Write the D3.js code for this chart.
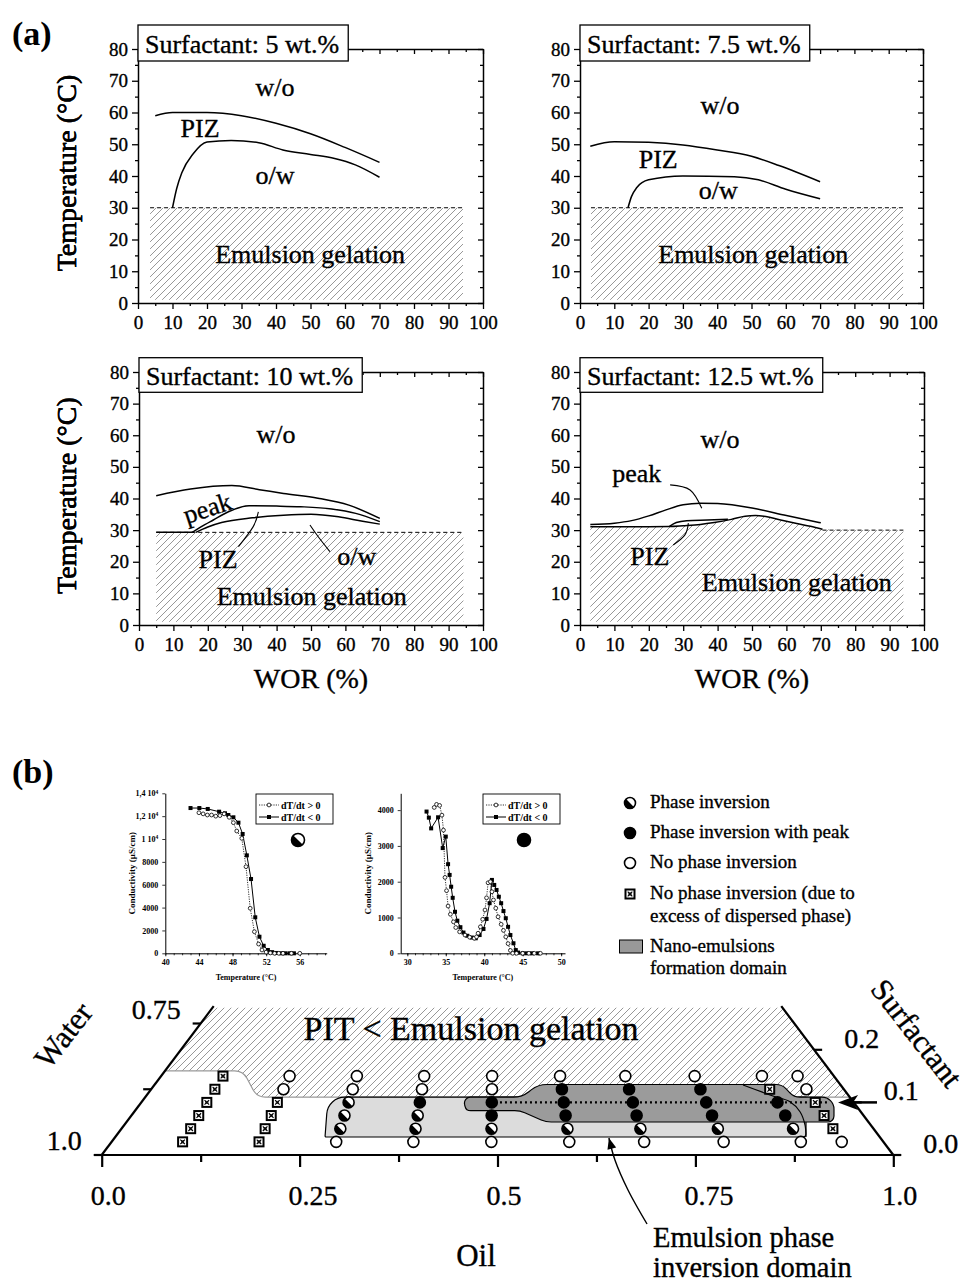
<!DOCTYPE html>
<html><head><meta charset="utf-8">
<script src="https://cdn.jsdelivr.net/npm/d3@7"></script>
<style>
body{margin:0;background:#fff;}
svg{display:block;}
.heavy{stroke:#000;stroke-width:0.35px;}
</style></head><body>
<svg id="c" width="971" height="1286"></svg>
<script>
// ================= DATA : panel (a) =================
const surfactantLabels = ["Surfactant: 5 wt.%","Surfactant: 7.5 wt.%","Surfactant: 10 wt.%","Surfactant: 12.5 wt.%"];
const tempTicks = [0,10,20,30,40,50,60,70,80];
const worTicks = [0,10,20,30,40,50,60,70,80,90,100];

// 5 wt.%
const wt5Upper = [[5,59],[10,60],[20,60],[30,59],[40,56.6],[50,53.3],[60,49],[70,44.3]];
const wt5Lower = [[10,30],[11.2,36],[12.7,41],[16,47],[20,50.7],[27,51.2],[35,50.5],[42,48.2],[50,46.8],[57,45.5],[63,43.5],[70,39.6]];
// 7.5 wt.%
const wt75Upper = [[3,49.4],[10,50.8],[20,50.6],[30,49.8],[40,48.2],[50,46.2],[58,43.3],[70,38.2]];
const wt75Lower = [[14,30],[15,33.5],[16.5,36.3],[20,38.8],[30,40],[45,39.8],[52,38.8],[60,35.8],[70,32.8]];
// 10 wt.%
const wt10Upper = [[5,40.9],[15,43],[27,44.1],[35,42.8],[42,41.6],[52,40.1],[61,37.9],[70,33.7]];
const wt10Base = [[5,29.3],[16,29.3]];
const wt10Middle = [[15.5,29.3],[18,31],[21.6,33.2],[26,35.8],[32,37.7],[40,37.6],[47,37.4],[56,36.7],[63,35.3],[70,32.7]];
const wt10Lower = [[16.5,29.3],[20,31],[24,32.4],[33,33.9],[42,34.7],[50,35],[58,34.2],[65,32.8],[70,31.9]];
// 12.5 wt.%
const wt125Upper = [[3,31.8],[10,32.2],[15,33],[20,34.5],[25,36.4],[30,38],[35,38.5],[40,38.4],[50,37],[60,34.6],[70,32.3]];
const wt125Lower = [[3,31.1],[20,31.1],[26,31.15],[30,31.4],[35,31.8],[39,32.4],[44,33.4],[48,34.4],[51,34.6],[54,34.3],[58,33.3],[63,32.1],[67,31.2],[70.5,30.3]];
const wt125Piz = [[26,31.2],[28,32.4],[31,33],[37,33.2],[43,33.4]];
const wt125GelEnd = [[94,30]];

// gelation limits (°C) and hatch extents (WOR %)
const gelTemp = [30, 30, 29.3, 30];
const hatchRange = [[3.5,94.2],[3.2,94.2],[5,94.3],[3,94]];
const dashRange = [[3.5,94.2],[3.2,94.2],[5,94.3],[70.5,94]];

// region labels [text, WOR, T, rotation]
const labels5 = [["w/o",39.7,65.2,0],["PIZ",18,52.4,0],["o/w",39.7,37.5,0],["Emulsion gelation",49.9,12.6,0]];
const labels75 = [["w/o",40.8,59.5,0],["PIZ",22.8,42.5,0],["o/w",40.3,32.8,0],["Emulsion gelation",50.5,12.6,0]];
const labels10 = [["w/o",39.8,57.5,0],["peak",20.1,36.3,-18],["PIZ",23,18,0],["o/w",63.3,19,0],["Emulsion gelation",50.2,6.3,0]];
const labels125 = [["w/o",40.7,56,0],["peak",16.5,45.2,0],["PIZ",20.3,19,0],["Emulsion gelation",63,10.8,0]];
// leader lines
const leaders10 = [[[28.9,24.8],[33.2,31.1],[34.7,35.8]],[[55.5,23.2],[52.1,27.9],[49.7,31.6]]];
const leaders125 = [[[26.2,44.3],[32,42.7],[35.4,36.9]],[[27.1,25.3],[30.5,28.5],[31.5,32.2]]];

// ================= DATA : conductivity insets =================
const c1Heating = [[44,12300],[44.5,12200],[45,12100],[45.5,12100],[46,12000],[46.5,12050],[47,12200],[47.6,11900],[48.1,11430],[48.5,10700],[49.1,10060],[49.6,7580],[50.1,3940],[50.6,1890],[51.1,810],[51.5,290],[52,100],[52.5,30],[53,0],[53.5,0],[54,0],[55,0],[56,0]];
const c1Cooling = [[43,12710],[44.05,12710],[45.05,12630],[46.4,12390],[47.1,12250],[47.5,12100],[48.1,11900],[48.7,11430],[49.2,10440],[49.7,8570],[50.2,6500],[50.7,3150],[51.2,1450],[51.7,660],[52.2,290],[52.7,100],[53.2,30],[53.8,0],[54.3,0],[54.8,0],[55.3,0]];
const c1YTicks = [0,2000,4000,6000,8000,10000,12000,14000];
const c1YLabels = ["0","2000","4000","6000","8000","1 10^4","1,2 10^4","1,4 10^4"];
const c1XTicks = [40,44,48,52,56];

const c2Heating = [[33.5,4075],[33.8,4160],[34.2,4130],[34.5,3860],[34.7,3440],[34.9,2120],[35.1,1750],[35.3,1320],[35.6,1090],[36,880],[36.3,720],[36.8,600],[37.5,510],[38.1,450],[38.7,420],[39,460],[39.2,560],[39.5,740],[39.8,950],[40.1,1210],[40.3,1550],[40.5,1970],[40.8,2000],[41,1720],[41.2,1490],[41.5,1260],[41.8,1020],[42.2,810],[42.5,640],[42.8,460],[43.1,270],[43.4,80],[43.7,0],[44.2,0],[45,0],[45.8,0],[46.5,0],[47.3,0]];
const c2Cooling = [[32.5,3960],[32.8,3790],[33.1,3490],[34,3800],[34.6,2940],[35,3260],[35.3,2490],[35.5,2190],[35.7,1860],[35.9,1550],[36.2,1160],[36.5,910],[36.9,730],[37.3,580],[37.8,490],[38.4,440],[38.9,420],[39.4,510],[39.9,680],[40.3,960],[40.7,1400],[41,2050],[41.3,1910],[41.6,1770],[41.9,1580],[42.2,1400],[42.5,1180],[42.8,980],[43.1,740],[43.4,510],[43.8,280],[44.1,90],[44.4,20],[45,0],[45.5,0],[46.2,0],[47,0]];
const c2YTicks = [0,1000,2000,3000,4000];
const c2XTicks = [30,35,40,45,50];
const insetLegend = ["dT/dt > 0","dT/dt < 0"];

// ================= DATA : ternary diagram =================
const oilRatio = [0.092,0.191,0.291,0.391,0.492,0.593,0.69,0.793,0.893,0.946]; // oil/(oil+water)
const surfLevels = [0.025,0.05,0.075,0.1,0.125,0.15];
// X: no inversion (excess dispersed), O: no inversion, H: phase inversion, F: inversion with peak
const pointTypes = ["XXXXXX","XXXXOO","OHHHOO","OHHFOO","OHFFOO","OHFFFO","OHFFFO","OHFFFO","OHFFXO","OXXXOO"];
// regions as [oil, surfactant]
const gelRegion = [[0,0.16],[0.0985,0.16],[0.1412,0.11],[0.89,0.11],[0.72,0.28],[0,0.28]];
const inversionRegion = [[0.265,0.0342],[0.2309,0.11],[0.8347,0.11],[0.8726,0.0342]];
const inversionRegionEnd = [[0.7436,0.1331],[0.7919,0.1122],[0.8188,0.1013],[0.841,0.0823],[0.86,0.057],[0.8726,0.0342]];
const nanoRegion = [[0.4014,0.11],[0.476,0.11],[0.4842,0.134],[0.7924,0.134],[0.8196,0.11],[0.8701,0.11],[0.8937,0.0627],[0.5299,0.0627],[0.4863,0.0842],[0.4181,0.0842]];
const dottedRow = [[0.4468,0.1],[0.8675,0.1]];
const arrowRow = [[0.9294,0.1],[0.8802,0.1]];
const inversionArrow = [[0.7545,-0.1312],[0.6981,-0.0665],[0.6531,-0.0095],[0.6246,0.0323]];
const oilTicks = [0,0.125,0.25,0.375,0.5,0.625,0.75,0.875,1];
const oilLabels = ["0.0","0.25","0.5","0.75","1.0"];
const oilLabelVals = [0,0.25,0.5,0.75,1];
const waterTicks = [0,0.125,0.25];
const waterLabels = [[0,"1.0"],[0.25,"0.75"]];
const surfTicks = [0,0.1,0.2];
const surfLabels = ["0.0","0.1","0.2"];

// ================= DRAWING =================
const FONT = "Liberation Serif, Times New Roman, serif";
const svg = d3.select('#c').attr('font-family', FONT);
svg.append('rect').attr('width',971).attr('height',1286).attr('fill','#fff');
const defs = svg.append('defs');
const pat = defs.append('pattern').attr('id','hatch').attr('patternUnits','userSpaceOnUse').attr('width',7).attr('height',7);
pat.append('path').attr('d','M-1,1 l2,-2 M0,7 l7,-7 M6,8 l2,-2').attr('stroke','#8c8c8c').attr('stroke-width',0.9);

svg.append('text').attr('x',12).attr('y',45).attr('font-size',34).attr('font-weight','bold').text('(a)');
svg.append('text').attr('x',12).attr('y',783).attr('font-size',34).attr('font-weight','bold').text('(b)');

const panelLayout = [
  {left:138,right:483,top:49,bottom:303,boxTop:25,boxH:36},
  {left:580,right:923,top:49,bottom:303,boxTop:25,boxH:36},
  {left:139,right:483,top:372,bottom:625,boxTop:357.7,boxH:34.6},
  {left:580,right:924,top:372,bottom:625,boxTop:357.7,boxH:34.6}
];
const panelData = [
  {curves:[wt5Upper,wt5Lower], labels:labels5, leaders:[], hatch:null},
  {curves:[wt75Upper,wt75Lower], labels:labels75, leaders:[], hatch:null},
  {curves:[wt10Upper,wt10Base,wt10Middle,wt10Lower], labels:labels10, leaders:leaders10, hatch:null},
  {curves:[wt125Upper,wt125Lower,wt125Piz], labels:labels125, leaders:leaders125, hatch:wt125Lower.concat(wt125GelEnd)}
];

function styleAxis(g, fs){
  g.attr('font-family',null).attr('font-size',null);
  g.select('.domain').attr('stroke','#000').attr('stroke-width',1.5);
  g.selectAll('.tick line').attr('stroke','#000').attr('stroke-width',1.3);
  g.selectAll('.tick text').attr('font-family',FONT).attr('font-size',fs).attr('fill','#000').attr('class','heavy');
}

panelLayout.forEach((lay,i)=>{
  const pd = panelData[i];
  const x = d3.scaleLinear().domain([0,100]).range([lay.left,lay.right]);
  const y = d3.scaleLinear().domain([0,80]).range([lay.bottom,lay.top]);
  const g = svg.append('g');
  const hr = hatchRange[i];
  if (pd.hatch){
    g.append('path').attr('d', d3.area().x(d=>x(d[0])).y0(y(1)).y1(d=>y(d[1])).curve(d3.curveMonotoneX)(pd.hatch)).attr('fill','url(#hatch)');
  } else {
    g.append('rect').attr('x',x(hr[0])).attr('width',x(hr[1])-x(hr[0])).attr('y',y(gelTemp[i])).attr('height',y(1)-y(gelTemp[i])).attr('fill','url(#hatch)');
  }
  const dr = dashRange[i];
  g.append('line').attr('x1',x(dr[0])).attr('x2',x(dr[1])).attr('y1',y(gelTemp[i])).attr('y2',y(gelTemp[i]))
    .attr('stroke','#000').attr('stroke-width',1).attr('stroke-dasharray','4,3');
  const line = d3.line().x(d=>x(d[0])).y(d=>y(d[1])).curve(d3.curveMonotoneX);
  pd.curves.forEach(c=>g.append('path').attr('d',line(c)).attr('fill','none').attr('stroke','#000').attr('stroke-width',1.5));
  const lead = d3.line().x(d=>x(d[0])).y(d=>y(d[1])).curve(d3.curveNatural);
  pd.leaders.forEach(c=>g.append('path').attr('d',lead(c)).attr('fill','none').attr('stroke','#000').attr('stroke-width',1.1));
  pd.labels.forEach(l=>{
    const t = g.append('text').attr('class','heavy').attr('x',x(l[1])).attr('y',y(l[2])).attr('text-anchor','middle').attr('font-size',26).text(l[0]);
    if (l[3]) t.attr('transform',`rotate(${l[3]},${x(l[1])},${y(l[2])})`).attr('dy','0.25em');
  });
  const ax = g.append('g').attr('transform',`translate(0,${lay.bottom})`).call(d3.axisBottom(x).tickValues(worTicks).tickSize(6).tickSizeOuter(0).tickPadding(7));
  styleAxis(ax,19);
  const axm = g.append('g').attr('transform',`translate(0,${lay.bottom})`).call(d3.axisBottom(x).tickValues(d3.range(5,100,10)).tickSize(3).tickFormat(''));
  styleAxis(axm,19); axm.select('.domain').remove();
  const ay = g.append('g').attr('transform',`translate(${lay.left},0)`).call(d3.axisLeft(y).tickValues(tempTicks).tickSize(6).tickSizeOuter(0).tickPadding(4));
  styleAxis(ay,19);
  const aym = g.append('g').attr('transform',`translate(${lay.left},0)`).call(d3.axisLeft(y).tickValues(d3.range(5,80,10)).tickSize(3).tickFormat(''));
  styleAxis(aym,19); aym.select('.domain').remove();
  const at = g.append('g').attr('transform',`translate(0,${lay.top})`).call(d3.axisTop(x).tickValues(worTicks).tickSize(-5).tickSizeOuter(0).tickFormat(''));
  styleAxis(at,19);
  const atm = g.append('g').attr('transform',`translate(0,${lay.top})`).call(d3.axisTop(x).tickValues(d3.range(5,100,10)).tickSize(-3).tickFormat(''));
  styleAxis(atm,19); atm.select('.domain').remove();
  const ar = g.append('g').attr('transform',`translate(${lay.right},0)`).call(d3.axisRight(y).tickValues(tempTicks).tickSize(-5).tickSizeOuter(0).tickFormat(''));
  styleAxis(ar,19);
  const arm = g.append('g').attr('transform',`translate(${lay.right},0)`).call(d3.axisRight(y).tickValues(d3.range(5,80,10)).tickSize(-3).tickFormat(''));
  styleAxis(arm,19); arm.select('.domain').remove();
  const box = g.append('rect').attr('x',lay.left).attr('y',lay.boxTop).attr('height',lay.boxH).attr('fill','#fff').attr('stroke','#000').attr('stroke-width',1.3);
  const tt = g.append('text').attr('class','heavy').attr('x',lay.left+7).attr('y',lay.boxTop+27.5).attr('font-size',26).text(surfactantLabels[i]);
  box.attr('width', tt.node().getComputedTextLength()+16);
  const cy = (lay.top+lay.bottom)/2 - 3;
  g.append('text').attr('class','heavy').attr('transform',`translate(76,${cy}) rotate(-90)`).attr('text-anchor','middle').attr('font-size',28).text('Temperature (°C)');
  if (i>=2) g.append('text').attr('class','heavy').attr('x',(lay.left+lay.right)/2).attr('y',688).attr('text-anchor','middle').attr('font-size',28).text('WOR (%)');
});

// ================= markers =================
function drawMarker(g, type, cx, cy, r){
  if (type==='X'){
    const s = r*2;
    g.append('rect').attr('x',cx-r).attr('y',cy-r).attr('width',s).attr('height',s).attr('fill','#000');
    g.append('rect').attr('x',cx-r+2).attr('y',cy-r+2).attr('width',s-4).attr('height',s-4).attr('fill','#fff');
    const q = r-3.2;
    g.append('path').attr('d',`M${cx-q},${cy-q}L${cx+q},${cy+q}M${cx+q},${cy-q}L${cx-q},${cy+q}`).attr('stroke','#000').attr('stroke-width',1.1);
    g.append('rect').attr('x',cx-1.2).attr('y',cy-1.2).attr('width',2.4).attr('height',2.4).attr('fill','none').attr('stroke','#000').attr('stroke-width',0.6);
    return;
  }
  g.append('circle').attr('cx',cx).attr('cy',cy).attr('r',r).attr('fill',type==='F'?'#000':'#fff').attr('stroke','#000').attr('stroke-width',1.6);
  if (type==='H'){
    const a = r/Math.SQRT2;
    g.append('path').attr('d',`M${cx+a},${cy+a}A${r},${r} 0 0 1 ${cx-a},${cy-a}Z`).attr('fill','#000');
  }
}

// ================= insets =================
function drawInset(cfg){
  const x = d3.scaleLinear().domain(cfg.xDom).range([cfg.left,cfg.right]);
  const y = d3.scaleLinear().domain(cfg.yDom).range([cfg.bottom,cfg.top]);
  const g = svg.append('g');
  const ax = g.append('g').attr('transform',`translate(0,${cfg.bottom})`).call(d3.axisBottom(x).tickValues(cfg.xTicks).tickSize(3).tickSizeOuter(0).tickPadding(3));
  const axm = g.append('g').attr('transform',`translate(0,${cfg.bottom})`).call(d3.axisBottom(x).tickValues(d3.range(Math.ceil(cfg.xDom[0]),cfg.xDom[1],1)).tickSize(2).tickFormat(''));
  axm.select('.domain').remove();
  const ay = g.append('g').attr('transform',`translate(${cfg.left},0)`).call(d3.axisLeft(y).tickValues(cfg.yTicks).tickSize(3).tickSizeOuter(0).tickPadding(4).tickFormat((d,i)=>cfg.yLabels?cfg.yLabels[i]:d));
  [ax,axm,ay].forEach(a=>{
    a.attr('font-family',null).attr('font-size',null);
    a.select('.domain').attr('stroke','#000').attr('stroke-width',1);
    a.selectAll('.tick line').attr('stroke','#000').attr('stroke-width',0.8);
    a.selectAll('.tick text').attr('font-family',FONT).attr('font-size',8).attr('font-weight','bold').attr('fill','#000');
  });
  ay.selectAll('.tick text').each(function(){
    const s = d3.select(this).text();
    if (s.includes('^')){
      const [a,b] = s.split('^');
      const t = d3.select(this); t.text(a);
      t.append('tspan').attr('dy','-0.5em').attr('font-size',5.5).text(b);
    }
  });
  const lh = d3.line().x(d=>x(d[0])).y(d=>y(d[1]));
  g.append('path').attr('d',lh(cfg.heat)).attr('fill','none').attr('stroke','#000').attr('stroke-width',0.8).attr('stroke-dasharray','1.2,1.2');
  g.append('path').attr('d',lh(cfg.cool)).attr('fill','none').attr('stroke','#000').attr('stroke-width',1);
  g.selectAll(null).data(cfg.cool).join('rect').attr('x',d=>x(d[0])-2).attr('y',d=>y(d[1])-2).attr('width',4).attr('height',4).attr('fill','#000');
  g.selectAll(null).data(cfg.heat).join('circle').attr('cx',d=>x(d[0])).attr('cy',d=>y(d[1])).attr('r',1.9).attr('fill','#fff').attr('stroke','#000').attr('stroke-width',0.8);
  g.append('text').attr('transform',`translate(${cfg.left-30},${(cfg.top+cfg.bottom)/2}) rotate(-90)`).attr('text-anchor','middle').attr('font-size',9).attr('font-weight','bold').text('Conductivity  (μS/cm)');
  g.append('text').attr('x',(cfg.left+cfg.right)/2).attr('y',980).attr('text-anchor','middle').attr('font-size',8).attr('font-weight','bold').text('Temperature  (°C)');
  const lg = g.append('g');
  lg.append('rect').attr('x',cfg.legX).attr('y',794).attr('width',77).attr('height',30).attr('fill','#fff').attr('stroke','#000').attr('stroke-width',0.9);
  insetLegend.forEach((t,k)=>{
    const yy = 805 + k*12;
    lg.append('line').attr('x1',cfg.legX+3).attr('x2',cfg.legX+23).attr('y1',yy).attr('y2',yy).attr('stroke','#000').attr('stroke-width',k?1:0.8).attr('stroke-dasharray',k?null:'1.2,1.2');
    if (k) lg.append('rect').attr('x',cfg.legX+11).attr('y',yy-2).attr('width',4).attr('height',4).attr('fill','#000');
    else lg.append('circle').attr('cx',cfg.legX+13).attr('cy',yy).attr('r',1.9).attr('fill','#fff').attr('stroke','#000').attr('stroke-width',0.8);
    lg.append('text').attr('x',cfg.legX+25).attr('y',yy+3.5).attr('font-size',10).attr('font-weight','bold').text(t);
  });
  drawMarker(g, cfg.mark, cfg.markX, 840, 6.5);
}

drawInset({left:165.3,right:326.7,top:793.3,bottom:953.3,xDom:[40,59.2],yDom:[0,14000],xTicks:c1XTicks,yTicks:c1YTicks,yLabels:c1YLabels,heat:c1Heating,cool:c1Cooling,legX:256,mark:'H',markX:298});
drawInset({left:400.7,right:565,top:793.3,bottom:953.3,xDom:[29.14,50.5],yDom:[0,4470],xTicks:c2XTicks,yTicks:c2YTicks,yLabels:null,heat:c2Heating,cool:c2Cooling,legX:483,mark:'F',markX:524});

// ================= legend (b) =================
const legendItems = [["H",["Phase inversion"]],["F",["Phase inversion with peak"]],["O",["No phase inversion"]],["X",["No phase inversion (due to","excess of dispersed phase)"]]];
const legY = [803,833,863,894];
const lgB = svg.append('g');
legendItems.forEach((it,k)=>{
  drawMarker(lgB, it[0], 630, legY[k], 5.5);
  it[1].forEach((t,j)=>lgB.append('text').attr('class','heavy').attr('x',650).attr('y',legY[k]+5+j*23).attr('font-size',19).text(t));
});
lgB.append('rect').attr('x',619.5).attr('y',940).attr('width',23).attr('height',13).attr('fill','#999').attr('stroke','#000').attr('stroke-width',1);
lgB.append('text').attr('class','heavy').attr('x',650).attr('y',951.5).attr('font-size',19).text('Nano-emulsions');
lgB.append('text').attr('class','heavy').attr('x',650).attr('y',973.5).attr('font-size',19).text('formation domain');

// ================= ternary =================
const tx = d3.scaleLinear().domain([0,1]).range([101.7,893.3]);
const ty = d3.scaleLinear().domain([0,1]).range([1155,629]);
const P = d => [tx(d[0]+d[1]/2), ty(d[1])];
const tg = svg.append('g');

function roundedPath(pts, radii, closed){
  const p = d3.path(); const n = pts.length;
  if (closed){
    const a = pts[n-1], b = pts[0];
    p.moveTo((a[0]+b[0])/2,(a[1]+b[1])/2);
    for (let i=0;i<n;i++){ const c = pts[i], nx = pts[(i+1)%n]; p.arcTo(c[0],c[1],nx[0],nx[1],radii[i]); }
    p.closePath();
  } else {
    p.moveTo(pts[0][0],pts[0][1]);
    for (let i=1;i<n-1;i++) p.arcTo(pts[i][0],pts[i][1],pts[i+1][0],pts[i+1][1],radii[i]);
    p.lineTo(pts[n-1][0],pts[n-1][1]);
  }
  return p.toString();
}

const gelPx = gelRegion.map(P);
const gelR = [0,14,14,0,0,0];
tg.append('path').attr('d',roundedPath(gelPx,gelR,true)).attr('fill','url(#hatch)');
tg.append('path').attr('d',roundedPath(gelPx.slice(0,4),gelR.slice(0,4),false)).attr('fill','none').attr('stroke','#999').attr('stroke-width',1.2);

tg.append('path').attr('d',roundedPath(inversionRegion.map(P),[1,18,0,3],true)).attr('fill','#dcdcdc').attr('stroke','#000').attr('stroke-width',1.2);
tg.append('path').attr('d',roundedPath(nanoRegion.map(P),[6,25,25,14,14,12,6,25,25,6],true)).attr('fill','#9b9b9b').attr('stroke','#000').attr('stroke-width',1.2);
tg.append('path').attr('d',d3.line().curve(d3.curveCatmullRom)(inversionRegionEnd.map(P))).attr('fill','none').attr('stroke','#000').attr('stroke-width',1.2);
const dr = dottedRow.map(P);
tg.append('line').attr('x1',dr[0][0]).attr('y1',dr[0][1]).attr('x2',dr[1][0]).attr('y2',dr[1][1]).attr('stroke','#000').attr('stroke-width',2.2).attr('stroke-dasharray','2,3');

const sTop = 0.283;
const edge = (a,b)=>{const p=P(a),q=P(b); tg.append('line').attr('x1',p[0]).attr('y1',p[1]).attr('x2',q[0]).attr('y2',q[1]).attr('stroke','#000').attr('stroke-width',2.2);};
edge([0,0],[1,0]); edge([0,0],[0,sTop]); edge([1,0],[1-sTop,sTop]);
const bax = tg.append('g').attr('transform','translate(0,1155)').call(d3.axisBottom(tx).tickValues(oilTicks.filter((d,i)=>i%2===0)).tickSize(12).tickFormat(''));
const baxm = tg.append('g').attr('transform','translate(0,1155)').call(d3.axisBottom(tx).tickValues(oilTicks.filter((d,i)=>i%2===1)).tickSize(7).tickFormat(''));
[bax,baxm].forEach(a=>{a.select('.domain').remove(); a.selectAll('.tick line').attr('stroke','#000').attr('stroke-width',2.2);});
oilLabelVals.forEach((v,k)=>tg.append('text').attr('class','heavy').attr('x',tx(v)-11).attr('y',1205).attr('font-size',28).text(oilLabels[k]));
waterTicks.forEach(s=>{const p=P([0,s]); tg.append('line').attr('x1',p[0]-8).attr('x2',p[0]).attr('y1',p[1]).attr('y2',p[1]).attr('stroke','#000').attr('stroke-width',2.2);});
waterLabels.forEach(w=>{const p=P([0,w[0]]); tg.append('text').attr('class','heavy').attr('x',p[0]-20).attr('y',p[1]-5).attr('text-anchor','end').attr('font-size',28).text(w[1]);});
surfTicks.forEach((s,k)=>{const p=P([1-s,s]); tg.append('line').attr('x1',p[0]).attr('x2',p[0]+8).attr('y1',p[1]).attr('y2',p[1]).attr('stroke','#000').attr('stroke-width',2.2);
  tg.append('text').attr('class','heavy').attr('x',p[0]+30).attr('y',p[1]-2).attr('font-size',28).text(surfLabels[k]);});

oilRatio.forEach((r,ci)=>{
  surfLevels.forEach((s,si)=>{
    const p = P([r*(1-s),s]);
    drawMarker(tg, pointTypes[ci][si], p[0], p[1], 5.5);
  });
});

const ar = arrowRow.map(P);
tg.append('line').attr('x1',ar[0][0]).attr('y1',ar[0][1]).attr('x2',ar[1][0]+14).attr('y2',ar[1][1]).attr('stroke','#000').attr('stroke-width',2.5);
tg.append('path').attr('d',`M${ar[1][0]},${ar[1][1]}L${ar[1][0]+20},${ar[1][1]-7.5}L${ar[1][0]+15},${ar[1][1]}L${ar[1][0]+20},${ar[1][1]+7.5}Z`).attr('fill','#000');
const ia = inversionArrow.map(P);
tg.append('path').attr('d',d3.line().curve(d3.curveCatmullRom)(ia)).attr('fill','none').attr('stroke','#000').attr('stroke-width',1.4);
{
  const tip = ia[ia.length-1], prev = ia[ia.length-2];
  const ang = Math.atan2(tip[1]-prev[1], tip[0]-prev[0]);
  const L = 11, W = 4.5;
  const bx = tip[0]-L*Math.cos(ang), by = tip[1]-L*Math.sin(ang);
  const nx = -Math.sin(ang), ny = Math.cos(ang);
  tg.append('path').attr('d',`M${tip[0]},${tip[1]}L${bx+W*nx},${by+W*ny}L${bx-W*nx},${by-W*ny}Z`).attr('fill','#000');
}

tg.append('text').attr('class','heavy').attr('x',471).attr('y',1040).attr('text-anchor','middle').attr('font-size',34).text('PIT < Emulsion gelation');
tg.append('text').attr('class','heavy').attr('transform','translate(63,1035) rotate(-52)').attr('text-anchor','middle').attr('dy','0.35em').attr('font-size',31).text('Water');
tg.append('text').attr('class','heavy').attr('transform','translate(917,1033) rotate(52)').attr('text-anchor','middle').attr('dy','0.35em').attr('font-size',31).text('Surfactant');
tg.append('text').attr('class','heavy').attr('x',476).attr('y',1266).attr('text-anchor','middle').attr('font-size',31).text('Oil');
tg.append('text').attr('class','heavy').attr('x',653).attr('y',1247).attr('font-size',28.5).text('Emulsion phase');
tg.append('text').attr('class','heavy').attr('x',653).attr('y',1277).attr('font-size',28.5).text('inversion domain');
</script>
</body></html>
